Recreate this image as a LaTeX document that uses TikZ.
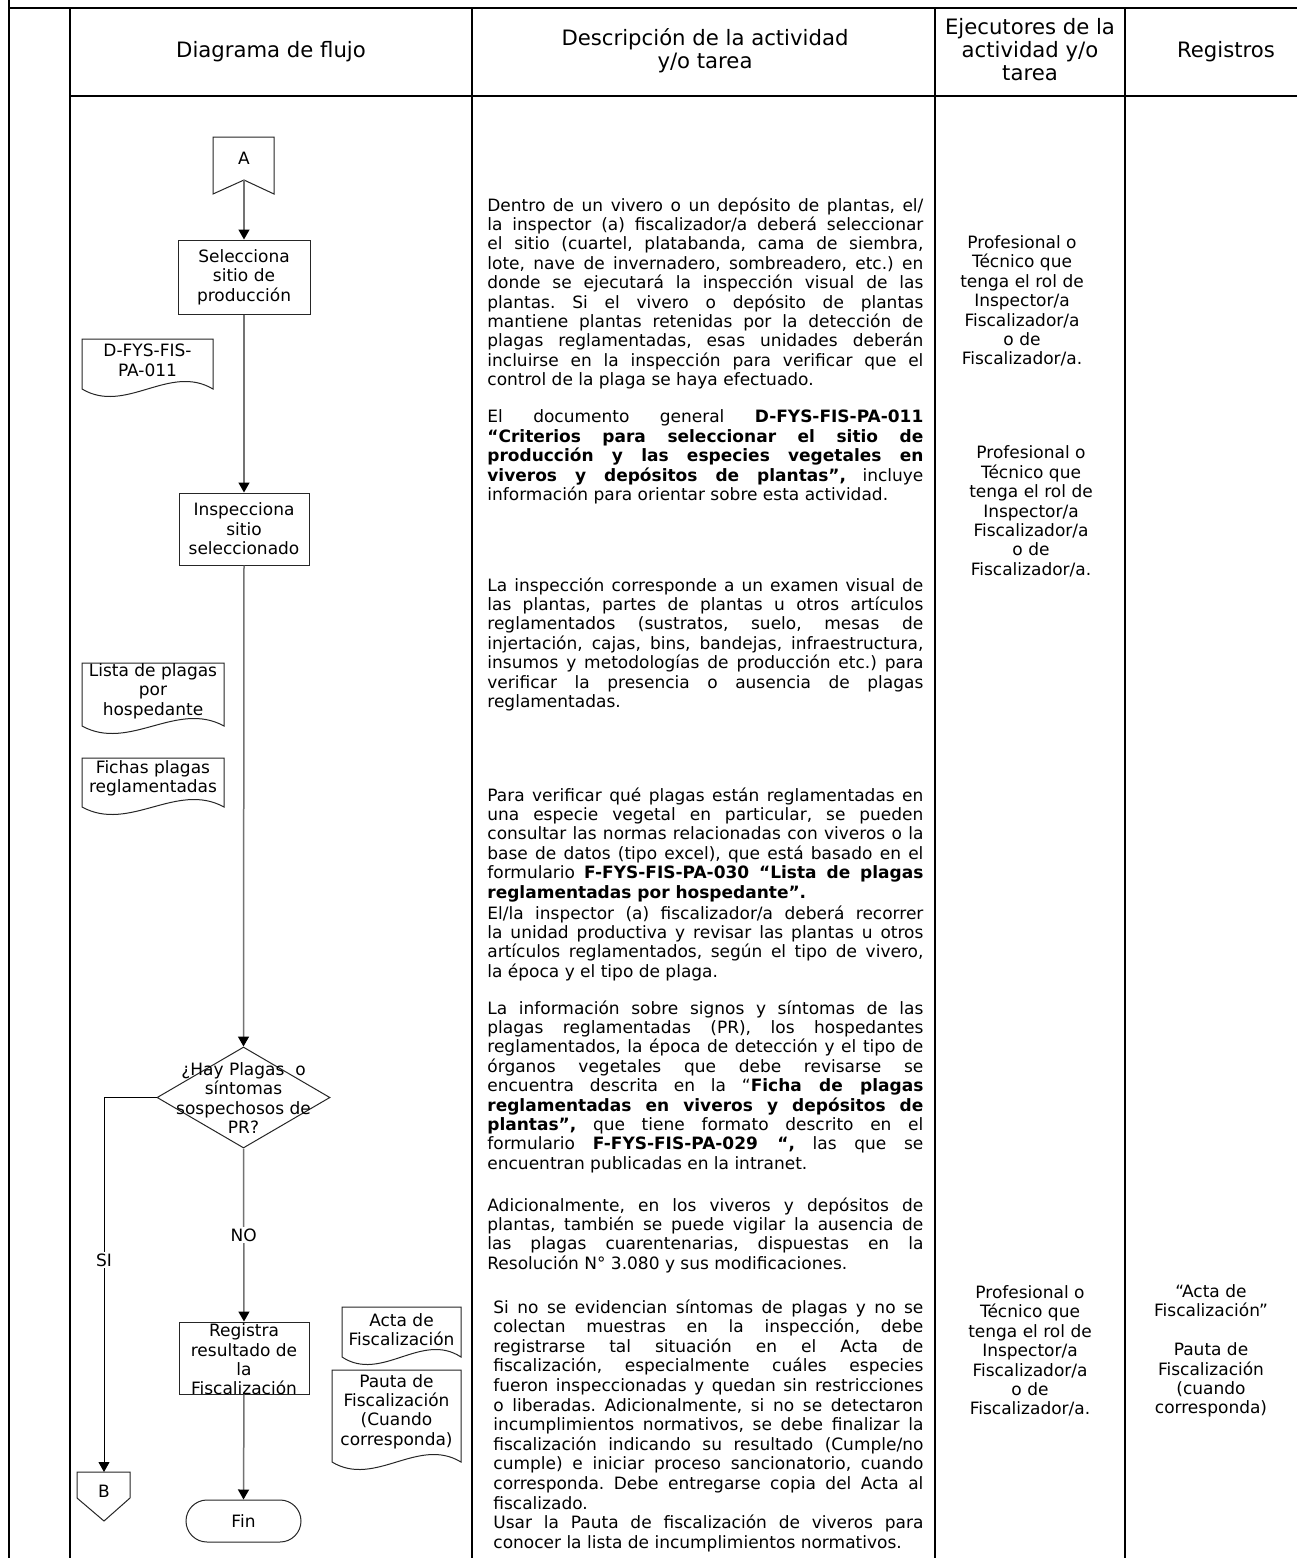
\documentclass[tikz,border=0pt]{standalone}
\usepackage{fontspec}
\setmainfont{DejaVu Sans}
\usetikzlibrary{arrows.meta,shapes.geometric}
\newcommand\jline[1]{\hbox to 218pt{\strut #1}}
\newcommand\lline[1]{\hbox to 218pt{\strut #1\hfil}}
\newcommand\jlineb[1]{\hbox to 215pt{\strut #1}}
\newcommand\llineb[1]{\hbox to 215pt{\strut #1\hfil}}
\newcommand\docshape[4]{\draw[shp] (#1,#2) -- (#3,#2) -- (#3,#4) .. controls ({#1+0.667*(#3-#1)},{#4-26}) and ({#1+0.333*(#3-#1)},{#4+26}) .. (#1,#4) -- cycle;}
\newcommand\bodyfnt{\fontsize{8.5pt}{9.7pt}\selectfont\frenchspacing\lineskiplimit=-20pt\relax}
\newcommand\hdrfnt{\fontsize{10.6pt}{11.5pt}\selectfont\lineskiplimit=-20pt\relax}
\frenchspacing
\begin{document}
\begin{tikzpicture}[x=0.5pt,y=-0.5pt, font=\bodyfnt,
 tbl/.style={line width=0.75pt, draw=black},
 hdr/.style={font=\hdrfnt, inner sep=0pt, align=center},
 txt/.style={inner sep=0pt, align=center},
 shp/.style={draw=black!85, line width=0.5pt},
 box/.style={shp, rectangle, inner sep=0pt, align=center},
 arr/.style={draw=black!55, line width=0.75pt, -{Triangle[length=5pt,width=5.5pt,color=black]}},
 arrb/.style={draw=black, line width=0.5pt, -{Triangle[length=5pt,width=5.5pt]}},
 lbl/.style={fill=white, inner sep=1pt},
 para/.style={anchor=north west, inner sep=0pt}
]
\useasboundingbox (0,0) rectangle (1297,1558);
\fill[white] (0,0) rectangle (1297,1558);

% table
\draw[tbl] (9,0) -- (9,1558);
\draw[tbl] (9,8) -- (1297,8);
\draw[tbl] (70,8) -- (70,1558);
\draw[tbl] (70,96) -- (1297,96);
\foreach \x in {472,935,1125} \draw[tbl] (\x,8) -- (\x,1558);

% headers
\node[hdr] (h1) at (271,52) {Diagrama de flujo};
\node[hdr] (h2) at (705,51) {Descripción de la actividad\\y/o tarea};
\node[hdr] (h3) at (1030,50) {Ejecutores de la\\actividad y/o\\tarea};
\node[hdr] (h4) at (1226,52) {Registros};

% flow chart
\draw[shp] (213,137) -- (274,137) -- (274,194) -- (244,180) -- (213,194) -- cycle;
\node[txt] (A) at (244,158) {A};
\coordinate (Anotch) at (244,180);

\node[box, minimum width=66pt, minimum height=37pt] (sel) at (244,277) {Selecciona\\sitio de\\producción};
\draw[arr] (Anotch) -- (sel.north);

\node[box, minimum width=65pt, minimum height=36pt] (ins) at (244,529) {Inspecciona\\sitio\\seleccionado};
\draw[arr] (sel.south) -- (ins.north);

\node[shp, diamond, minimum width=86.5pt, minimum height=50.5pt, inner sep=0pt] (dec) at (243.5,1097.5) {};
\node[txt] (dect) at (243.5,1098) {¿Hay Plagas~~o\\síntomas\\sospechosos de\\PR?};
\draw[arr] (ins.south) -- (dec.north);

\node[box, minimum width=65pt, minimum height=36pt] (reg) at (244,1358) {};
\node[txt] (regt) at (244,1359.5) {Registra\\resultado de\\la\\Fiscalización};
\draw[arr] (dec.south) -- node[lbl, pos=0.5] {NO} (reg.north);

\node[box, rounded corners=10.5pt, minimum width=57.5pt, minimum height=21pt] (fin) at (243.5,1521) {Fin};
\draw[arr] (reg.south) -- (fin.north);

\draw[shp] (77,1472) -- (130,1472) -- (130,1498) -- (104,1521) -- (77,1498) -- cycle;
\coordinate (Btop) at (104,1472);
\node[txt] (B) at (104,1491) {B};
\draw[arrb] (dec.west) -| node[lbl, pos=0.717] {SI} (Btop);

% documents
\docshape{82}{339}{213}{389}
\node[txt] (d1) at (147.5,360.5) {D-FYS-FIS-\\PA-011};
\docshape{82}{663}{224}{726}
\node[txt] (d2) at (153,691) {Lista de plagas\\por\\hospedante};
\docshape{82}{758}{224}{807}
\node[txt] (d3) at (153,778.5) {Fichas plagas\\reglamentadas};
\docshape{342}{1307}{461}{1357}
\node[txt] (d4) at (401.5,1329.5) {Acta de\\Fiscalización};
\docshape{332}{1370}{461}{1462}
\node[txt] (d5) at (396.5,1411.5) {Pauta de\\Fiscalización\\(Cuando\\corresponda)};

% description
\node[para] (p1) at (487,197) {\vbox{%
\jline{Dentro de un vivero o un depósito de plantas, el/}
\jline{la inspector (a) fiscalizador/a deberá seleccionar}
\jline{el sitio (cuartel, platabanda, cama de siembra,}
\jline{lote, nave de invernadero, sombreadero, etc.) en}
\jline{donde se ejecutará la inspección visual de las}
\jline{plantas. Si el vivero o depósito de plantas}
\jline{mantiene plantas retenidas por la detección de}
\jline{plagas reglamentadas, esas unidades deberán}
\jline{incluirse en la inspección para verificar que el}
\lline{control de la plaga se haya efectuado.}}};

\node[para] (p2) at (487,409) {\vbox{%
\jline{El documento general \textbf{D-FYS-FIS-PA-011}}
\jline{\textbf{“Criterios para seleccionar el sitio de}}
\jline{\textbf{producción y las especies vegetales en}}
\jline{\textbf{viveros y depósitos de plantas”,} incluye}
\lline{información para orientar sobre esta actividad.}}};

\node[para] (p3) at (487,577) {\vbox{%
\jline{La inspección corresponde a un examen visual de}
\jline{las plantas, partes de plantas u otros artículos}
\jline{reglamentados (sustratos, suelo, mesas de}
\jline{injertación, cajas, bins, bandejas, infraestructura,}
\jline{insumos y metodologías de producción etc.) para}
\jline{verificar la presencia o ausencia de plagas}
\lline{reglamentadas.}}};

\node[para] (p4) at (487,787) {\vbox{%
\jline{Para verificar qué plagas están reglamentadas en}
\jline{una especie vegetal en particular, se pueden}
\jline{consultar las normas relacionadas con viveros o la}
\jline{base de datos (tipo excel), que está basado en el}
\jline{formulario \textbf{F-FYS-FIS-PA-030 “Lista de plagas}}
\lline{\textbf{reglamentadas por hospedante”.}}}};

\node[para] (p5) at (487,905) {\vbox{%
\jline{El/la inspector (a) fiscalizador/a deberá recorrer}
\jline{la unidad productiva y revisar las plantas u otros}
\jline{artículos reglamentados, según el tipo de vivero,}
\lline{la época y el tipo de plaga.}}};

\node[para] (p6) at (487,1000) {\vbox{%
\jline{La información sobre signos y síntomas de las}
\jline{plagas reglamentadas (PR), los hospedantes}
\jline{reglamentados, la época de detección y el tipo de}
\jline{órganos vegetales que debe revisarse se}
\jline{encuentra descrita en la “\textbf{Ficha de plagas}}
\jline{\textbf{reglamentadas en viveros y depósitos de}}
\jline{\textbf{plantas”,} que tiene formato descrito en el}
\jline{formulario \textbf{F-FYS-FIS-PA-029 “,} las que se}
\lline{encuentran publicadas en la intranet.}}};

\node[para] (p7) at (487,1197) {\vbox{%
\jline{Adicionalmente, en los viveros y depósitos de}
\jline{plantas, también se puede vigilar la ausencia de}
\jline{las plagas cuarentenarias, dispuestas en la}
\lline{Resolución N° 3.080 y sus modificaciones.}}};

\node[para] (p8) at (493,1299) {\vbox{\baselineskip=9.8pt
\jlineb{Si no se evidencian síntomas de plagas y no se}
\jlineb{colectan muestras en la inspección, debe}
\jlineb{registrarse tal situación en el Acta de}
\jlineb{fiscalización, especialmente cuáles especies}
\jlineb{fueron inspeccionadas y quedan sin restricciones}
\jlineb{o liberadas. Adicionalmente, si no se detectaron}
\jlineb{incumplimientos normativos, se debe finalizar la}
\jlineb{fiscalización indicando su resultado (Cumple/no}
\jlineb{cumple) e iniciar proceso sancionatorio, cuando}
\jlineb{corresponda. Debe entregarse copia del Acta al}
\llineb{fiscalizado.}
\jlineb{Usar la Pauta de fiscalización de viveros para}
\llineb{conocer la lista de incumplimientos normativos.}}};

% executors
\node[txt] (e1) at (1022,301) {Profesional o\\Técnico que\\tenga el rol de\\Inspector/a\\Fiscalizador/a\\o de\\Fiscalizador/a.};
\node[txt] (e2) at (1031,511.5) {Profesional o\\Técnico que\\tenga el rol de\\Inspector/a\\Fiscalizador/a\\o de\\Fiscalizador/a.};
\node[txt] (e3) at (1030,1351) {Profesional o\\Técnico que\\tenga el rol de\\Inspector/a\\Fiscalizador/a\\o de\\Fiscalizador/a.};

% registros
\node[txt] (r1) at (1211,1351) {“Acta de\\Fiscalización”\\[9.7pt]Pauta de\\Fiscalización\\(cuando\\corresponda)};
\end{tikzpicture}
\end{document}
